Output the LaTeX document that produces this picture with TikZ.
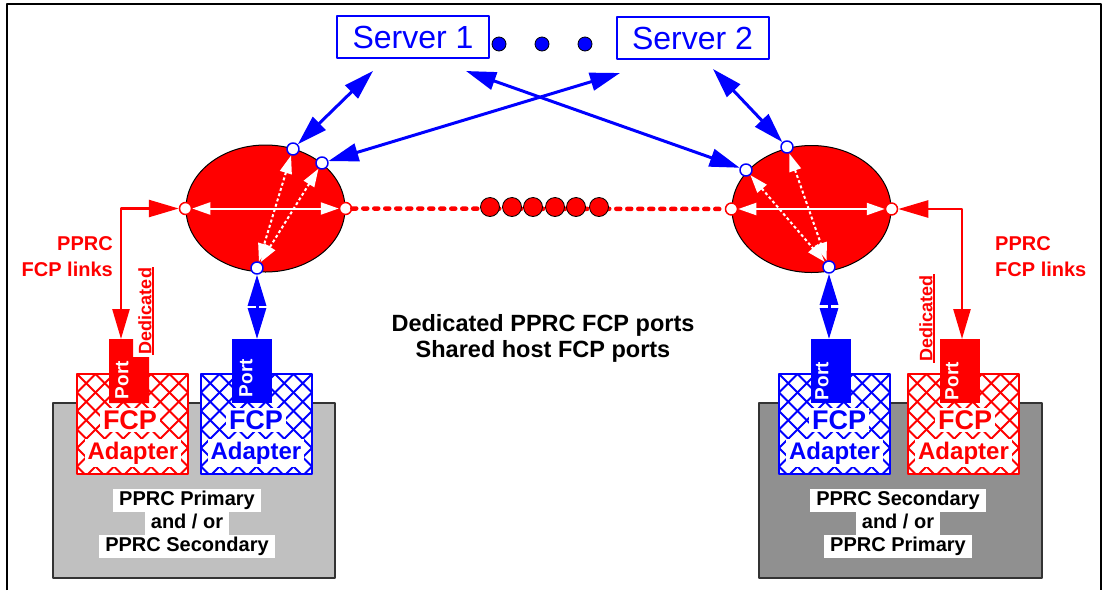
\documentclass[tikz,border=0pt]{standalone}
\usepackage{fontspec}
\setmainfont{Liberation Sans}
\usetikzlibrary{
  arrows.meta,      % Triangle 箭头
  positioning,      % 节点相对定位
  shapes.geometric  % 椭圆交换机
}
\definecolor{pcred}{RGB}{255,0,0}
\definecolor{pcblue}{RGB}{0,0,255}
\definecolor{lightbase}{RGB}{192,192,192}
\definecolor{darkbase}{RGB}{144,144,144}
\tikzset{
  server/.style={
    draw=pcblue,
    line width=2pt,
    text=pcblue,
    minimum width=152pt,
    minimum height=42pt,
    inner sep=0pt,
    font=\fontsize{32}{36}\selectfont
  },
  fabric/.style={
    ellipse,
    draw=black,
    line width=1pt,
    fill=pcred,
    inner sep=0pt,
    minimum width=159pt,
    minimum height=127pt
  },
  blue pin/.style={
    circle,
    draw=pcblue,
    fill=white,
    line width=1.5pt,
    inner sep=0pt,
    minimum size=12pt
  },
  red pin/.style={
    blue pin,
    draw=pcred
  },
  host link/.style={
    {Triangle[length=30pt,width=18pt]}-{Triangle[length=30pt,width=18pt]},
    line width=3pt,
    color=pcblue
  },
  port link/.style={
    {Triangle[length=31pt,width=18pt]}-{Triangle[length=31pt,width=18pt]},
    line width=3pt,
    color=pcblue
  },
  pprc link/.style={
    {Triangle[length=30pt,width=17pt]}-{Triangle[length=30pt,width=17pt]},
    line width=2.5pt,
    color=pcred
  },
  inner link/.style={
    {Triangle[length=18pt,width=12pt]}-{Triangle[length=18pt,width=12pt]},
    line width=2pt,
    color=white
  },
  inner dotted/.style={
    inner link,
    dash pattern=on 3pt off 2.5pt
  },
  inter link/.style={
    pcred,
    line width=4.5pt,
    line cap=round,
    dash pattern=on 4pt off 7pt
  }
}

\begin{document}
\begin{tikzpicture}[x=1pt, y=-1pt, line join=round]
  \useasboundingbox (0,0) rectangle (1103,590);

  % 外框（底边在图外）
  \draw[line width=1.5pt] (7,590) -- (7,4) -- (1101,4) -- (1101,590);

  % ===================================
  % 存储子系统底座
  % ===================================
  \filldraw[fill=lightbase, draw=black!80, line width=1.2pt] (53,403) rectangle (335,578);
  \filldraw[fill=darkbase, draw=black!80, line width=1.2pt] (759,403) rectangle (1042,578);

  % FCP 适配器（网格填充）
  \foreach \xa/\xb/\col in {77/188/pcred, 201/312/pcblue, 779/890/pcblue, 908/1019/pcred} {
    \begin{scope}
      \clip (\xa,374) rectangle (\xb,474);
      \fill[white] (\xa,374) rectangle (\xb,474);
      \foreach \k in {-6,...,12} {
        \draw[\col, line width=2pt] (\xa+\k*18.5,374) -- ++(100,100)
                                    (\xa+\k*18.5,374) -- ++(-100,100);
      }
    \end{scope}
    \draw[\col, line width=1.5pt] (\xa,374) rectangle (\xb,474);
  }

  % 端口
  \fill[pcred] (109,339) -- (133,339) -- (133,357) -- (149,357) -- (149,403) -- (109,403) -- cycle;
  \fill[pcblue] (232,339) rectangle (272,403);
  \fill[pcblue] (811,339) rectangle (851,403);
  \fill[pcred] (940,339) rectangle (980,403);

  \tikzset{
    port text/.style={rotate=90, text=white, inner sep=0pt, font=\bfseries\fontsize{19}{22}\selectfont},
    adapter text/.style={fill=white, inner xsep=3pt, inner ysep=2.5pt, font=\bfseries\fontsize{27}{30}\selectfont},
    adapter small/.style={adapter text, font=\bfseries\fontsize{24}{27}\selectfont},
    base text/.style={fill=white, inner xsep=6pt, inner ysep=1.5pt, text height=15pt, text depth=5pt, font=\bfseries\fontsize{20}{22}\selectfont},
    ded text/.style={rotate=90, text=pcred, inner sep=1pt, font=\bfseries\fontsize{18}{20}\selectfont},
    link text/.style={text=pcred, inner sep=0pt, font=\bfseries\fontsize{20}{26}\selectfont}
  }

  \node[port text] (ptL1) at (122,380) {Port};
  \node[port text] (ptL2) at (246,378) {Port};
  \node[port text] (ptR1) at (822,381) {Port};
  \node[port text] (ptR2) at (952,381) {Port};

  \node[adapter text, text=pcred]  (fcpL1) at (130,420) {FCP};
  \node[adapter small, text=pcred] (adpL1) at (133,453) {Adapter};
  \node[adapter text, text=pcblue]  (fcpL2) at (256,420) {FCP};
  \node[adapter small, text=pcblue] (adpL2) at (256,453) {Adapter};
  \node[adapter text, text=pcblue]  (fcpR1) at (839,420) {FCP};
  \node[adapter small, text=pcblue] (adpR1) at (834.5,453) {Adapter};
  \node[adapter text, text=pcred]  (fcpR2) at (965,420) {FCP};
  \node[adapter small, text=pcred] (adpR2) at (963.5,453) {Adapter};

  % 底座文字
  \node[base text] (baseL1) at (187,500) {PPRC Primary};
  \node[base text, below=0pt of baseL1] (baseL2) {and / or};
  \node[base text, below=0pt of baseL2] (baseL3) {PPRC Secondary};
  \node[base text] (baseR1) at (898,500) {PPRC Secondary};
  \node[base text, below=0pt of baseR1] (baseR2) {and / or};
  \node[base text, below=0pt of baseR2] (baseR3) {PPRC Primary};

  % ===================================
  % 主机与交换机
  % ===================================
  \node[server] (srv1) at (413,37) {Server 1};
  \node[server] (srv2) at (692.5,38) {Server 2};
  \foreach \x in {499,542,585} {
    \filldraw[fill=pcblue, draw=black, line width=0.8pt] (\x,44) circle (7pt);
  }

  \node[fabric] (swL) at (265.5,208.5) {};
  \node[fabric] (swR) at (811.5,209) {};

  % 交换机端口
  \node[red pin]  (lw)  at (swL.west) {};
  \node[red pin]  (le)  at (swL.east) {};
  \node[blue pin] (lt1) at (293,149) {};
  \node[blue pin] (lt2) at (322,163) {};
  \node[blue pin] (lb)  at (257,268) {};
  \node[red pin]  (rw)  at (swR.west) {};
  \node[red pin]  (re)  at (swR.east) {};
  \node[blue pin] (rt1) at (787,147) {};
  \node[blue pin] (rt2) at (746,170) {};
  \node[blue pin] (rb)  at (829,267) {};

  % 交换机之间的链路
  \draw[inter link] (le) -- (rw);
  \foreach \x in {490,512,533,555,576,599} {
    \filldraw[fill=pcred, draw=black, line width=0.8pt] (\x,207) circle (9.5pt);
  }

  % 交换机内部连接
  \draw[inner link] (lw) -- (le);
  \draw[inner dotted] (lt1) -- (lb);
  \draw[inner dotted] (lt2) -- (lb);
  \draw[inner link] (rw) -- (re);
  \draw[inner dotted] (rt1) -- (rb);
  \draw[inner dotted] (rt2) -- (rb);

  % 主机链路
  \coordinate (s1l) at (373,71);
  \coordinate (s1r) at (466,71);
  \coordinate (s2l) at (620,73);
  \coordinate (s2r) at (713,69);
  \draw[host link] (s1l) -- (lt1);
  \draw[host link] (s1r) -- (rt2);
  \draw[host link] (s2l) -- (lt2);
  \draw[host link] (s2r) -- (rt1);

  % 端口链路
  \coordinate (lrp) at (121,339);
  \coordinate (lbp) at (257,339);
  \coordinate (rbp) at (829,339);
  \coordinate (rrp) at (962,339);
  \draw[port link] (lb) -- (lbp);
  \draw[port link] (rb) -- (rbp);
  \draw[pprc link] (lrp) |- (lw);
  \draw[pprc link] (rrp) |- (re);

  % ===================================
  % 文字标注
  % ===================================
  \node[ded text] (dedL) at (145,311) {Dedicated};
  \draw[pcred, line width=2pt] (dedL.south west) -- (dedL.south east);
  \node[ded text] (dedR) at (926,318.5) {Dedicated};
  \draw[pcred, line width=2pt] (dedR.south west) -- (dedR.south east);

  \node[link text, anchor=east, align=right] (lnkL) at (113,257) {PPRC\\FCP links};
  \node[link text, anchor=west, align=left] (lnkR) at (995,257) {PPRC\\FCP links};

  \node[align=center, font=\bfseries\fontsize{23.5}{26}\selectfont] (note) at (543,338)
    {Dedicated PPRC FCP ports\\Shared host FCP ports};

\end{tikzpicture}
\end{document}
